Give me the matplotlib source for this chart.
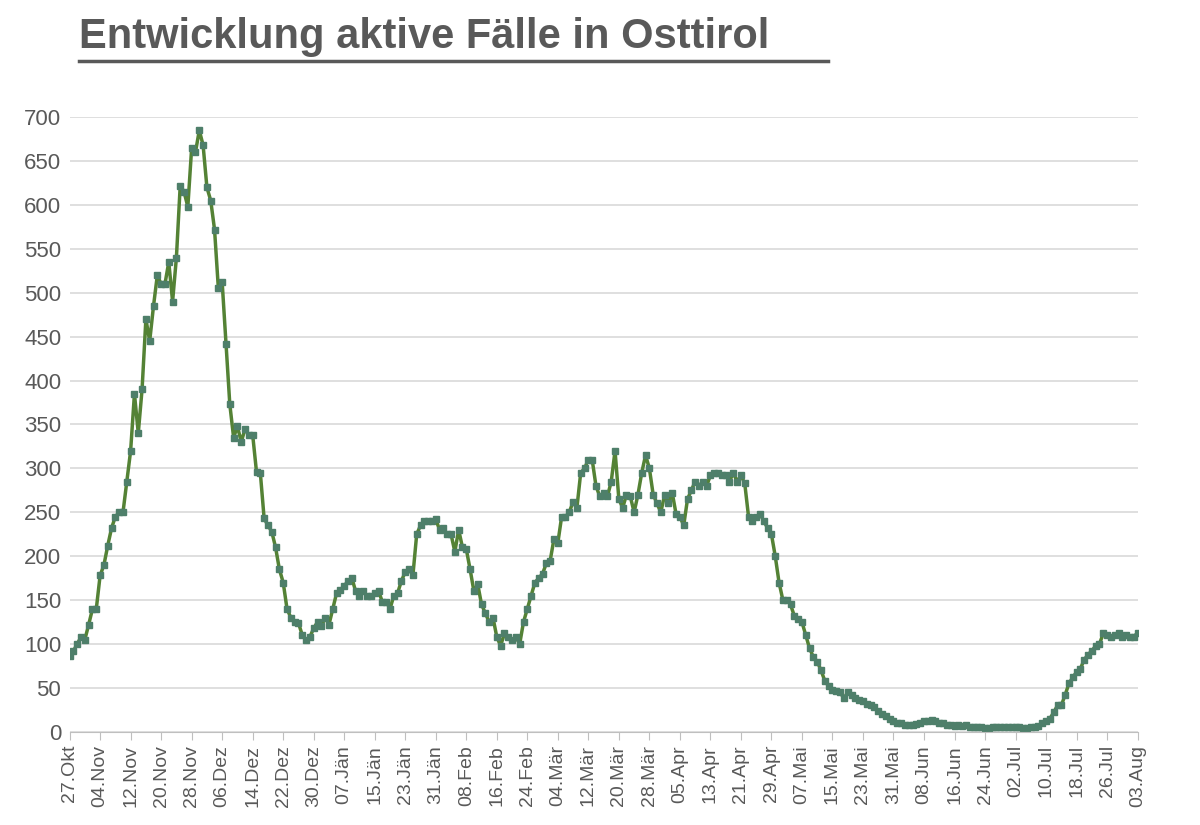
import matplotlib
matplotlib.use("Agg")
import matplotlib.pyplot as plt
import datetime as dt

start = dt.date(2020, 10, 27)
values = [
 86, 92, 100, 108, 105, 122, 140, 140,
 178, 190, 212, 232, 245, 250, 250, 285,
 320, 385, 340, 390, 470, 445, 485, 520,
 510, 510, 535, 490, 540, 622, 615, 598,
 665, 660, 685, 668, 620, 605, 572, 505,
 512, 442, 373, 335, 348, 330, 345, 338,
 338, 296, 295, 243, 235, 228, 210, 185,
 170, 140, 130, 125, 124, 110, 105, 108,
 118, 125, 120, 130, 122, 140, 158, 162,
 166, 172, 175, 160, 155, 160, 155, 155,
 158, 160, 148, 148, 140, 155, 158, 172,
 182, 185, 178, 225, 235, 240, 240, 240,
 242, 230, 232, 225, 225, 205, 230, 210,
 208, 185, 160, 168, 145, 135, 125, 130,
 108, 98, 112, 108, 105, 108, 100, 125,
 140, 155, 170, 175, 180, 192, 195, 220,
 215, 245, 245, 250, 262, 255, 295, 300,
 310, 310, 280, 268, 272, 268, 285, 320,
 265, 255, 270, 268, 250, 270, 295, 315,
 300, 270, 260, 250, 270, 260, 272, 248,
 245, 235, 265, 275, 285, 280, 285, 280,
 292, 295, 295, 292, 292, 285, 295, 285,
 292, 283, 245, 240, 245, 248, 240, 232,
 225, 200, 170, 150, 150, 145, 132, 128,
 125, 110, 95, 85, 80, 70, 58, 52,
 48, 46, 45, 38, 45, 42, 38, 36,
 35, 32, 30, 28, 24, 20, 18, 15,
 12, 10, 10, 8, 8, 8, 9, 10,
 12, 12, 13, 12, 10, 10, 8, 8,
 7, 8, 7, 8, 6, 6, 5, 5,
 4, 4, 5, 5, 5, 5, 5, 5,
 5, 5, 4, 4, 5, 5, 7, 10,
 12, 15, 22, 30, 30, 42, 55, 62,
 68, 72, 82, 88, 92, 98, 100, 112,
 110, 108, 110, 112, 108, 110, 108, 108,
 113,
]
title = "Entwicklung aktive Fälle in Osttirol"
months = ["Jän", "Feb", "Mär", "Apr", "Mai", "Jun", "Jul", "Aug", "Sep", "Okt", "Nov", "Dez"]

dates = [start + dt.timedelta(days=i) for i in range(len(values))]
x = list(range(len(values)))
tick_idx = list(range(0, len(values), 8))
tick_lbl = [f"{dates[i].day:02d}.{months[dates[i].month-1]}" for i in tick_idx]

plt.rcParams['font.family'] = ['Liberation Sans', 'DejaVu Sans']
fig = plt.figure(figsize=(12, 8.25), dpi=100)
ax = fig.add_axes([0.058, 0.113, 0.89, 0.745])
ax.plot(x, values, color="#548235", lw=2.5, marker="s", markersize=5,
        markerfacecolor="#4e7f6a", markeredgecolor="#4e7f6a")
ax.set_xlim(0, len(values) - 1)
ax.set_ylim(0, 700)
ax.set_yticks(range(0, 701, 50))
ax.grid(axis="y", color="#d9d9d9", lw=1.2)
ax.set_axisbelow(True)
ax.set_xticks(tick_idx)
ax.set_xticklabels(tick_lbl, rotation=90, fontsize=14, color="#595959")
ax.tick_params(axis="y", labelsize=16, labelcolor="#595959", length=0, pad=6)
ax.tick_params(axis="x", color="#bfbfbf", length=6)
for s in ["top", "right", "left"]:
    ax.spines[s].set_visible(False)
ax.spines["bottom"].set_color("#bfbfbf")
fig.text(0.066, 0.955, title, fontsize=30, fontweight="bold", color="#595959",
         va="center", ha="left")
fig.add_artist(plt.Line2D([0.066, 0.69], [0.926, 0.926], color="#595959", lw=2.5,
                          transform=fig.transFigure))
fig.savefig("out.png")
